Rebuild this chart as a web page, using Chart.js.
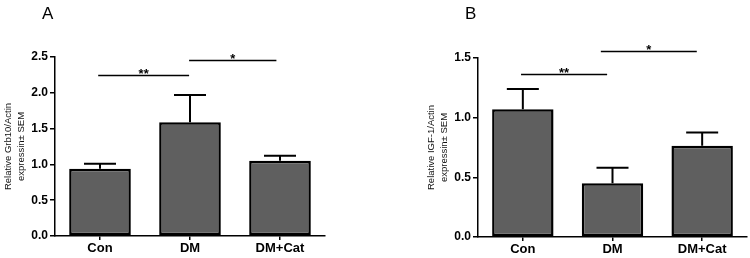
<!DOCTYPE html>
<html>
<head>
<meta charset="utf-8">
<script src="https://cdn.jsdelivr.net/npm/chart.js@4"></script>
<style>
  html, body { margin: 0; padding: 0; background: #fff; }
  body { width: 750px; height: 258px; position: relative; overflow: hidden; }
  canvas { position: absolute; top: 0; }
  #cA { left: 0; }
  #cB { left: 423px; }
</style>
</head>
<body>
<canvas id="cA" width="335" height="258"></canvas>
<canvas id="cB" width="327" height="258"></canvas>
<script>
// ---- data ----
const categories = ['Con', 'DM', 'DM+Cat'];

const grb10Mean = [0.94, 1.59, 1.05];
const grb10Sem  = [0.07, 0.38, 0.07];
const grb10Ticks = [0, 0.5, 1.0, 1.5, 2.0, 2.5];
const grb10Title = ['Relative Grb10/Actin', 'expressin\u00B1 SEM'];
const grb10SigFrom  = [-0.02, 0.99];
const grb10SigTo    = [0.99, 1.96];
const grb10SigY     = [2.25, 2.46];
const grb10SigLabel = ['**', '*'];

const igf1Mean = [1.07, 0.45, 0.765];
const igf1Sem  = [0.17, 0.13, 0.11];
const igf1Ticks = [0, 0.5, 1.0, 1.5];
const igf1Title = ['Relative IGF-1/Actin', 'expressin\u00B1 SEM'];
const igf1SigFrom  = [-0.02, 0.87];
const igf1SigTo    = [0.94, 1.94];
const igf1SigY     = [1.37, 1.56];
const igf1SigLabel = ['**', '*'];

Chart.defaults.font.family = 'Arial, "Liberation Sans", sans-serif';
Chart.defaults.color = '#000';

const annotPlugin = {
  id: 'annot',
  afterDatasetsDraw(chart, args, o) {
    const { ctx } = chart;
    const x = chart.scales.x, y = chart.scales.y;
    ctx.save();
    // error bars (upper SEM)
    ctx.strokeStyle = '#000';
    ctx.lineWidth = 2;
    o.mean.forEach((m, i) => {
      const cx = x.getPixelForValue(i);
      const y0 = y.getPixelForValue(m);
      const y1 = y.getPixelForValue(m + o.sem[i]);
      ctx.beginPath();
      ctx.moveTo(cx, y0); ctx.lineTo(cx, y1);
      ctx.moveTo(cx - 16, y1); ctx.lineTo(cx + 16, y1);
      ctx.stroke();
    });
    // significance brackets
    ctx.lineWidth = 1.3;
    ctx.fillStyle = '#000';
    ctx.font = 'bold 13px Arial, "Liberation Sans", sans-serif';
    ctx.textAlign = 'center';
    ctx.textBaseline = 'alphabetic';
    o.sigY.forEach((v, i) => {
      const xa = x.getPixelForValue(o.sigFrom[i]);
      const xb = x.getPixelForValue(o.sigTo[i]);
      const yy = Math.round(y.getPixelForValue(v)) + 0.5;
      ctx.beginPath(); ctx.moveTo(xa, yy); ctx.lineTo(xb, yy); ctx.stroke();
      ctx.fillText(o.sigLabel[i], (xa + xb) / 2, yy + 2);
    });
    // panel letter
    ctx.font = '17px Arial, "Liberation Sans", sans-serif';
    ctx.textAlign = 'left';
    ctx.fillText(o.letter, chart.chartArea.left - 13, 19);
    ctx.restore();
  }
};

function makeChart(id, mean, sem, ticks, title, sigFrom, sigTo, sigY, sigLabel, letter, pad) {
  return new Chart(document.getElementById(id), {
    type: 'bar',
    data: {
      labels: categories,
      datasets: [{
        data: mean,
        backgroundColor: '#5f5f5f',
        borderColor: '#000',
        borderWidth: 2.5,
        borderSkipped: false,
        categoryPercentage: 1,
        barPercentage: 0.685
      }]
    },
    options: {
      responsive: false,
      animation: false,
      devicePixelRatio: 1,
      layout: { padding: pad },
      plugins: {
        legend: { display: false },
        tooltip: { enabled: false },
        annot: { mean, sem, sigFrom, sigTo, sigY, sigLabel, letter }
      },
      scales: {
        x: {
          offset: true,
          grid: { display: true, drawOnChartArea: false, drawTicks: true, tickLength: 4, offset: false, color: '#000', lineWidth: 1.5 },
          border: { display: true, color: '#000', width: 1.5 },
          ticks: { font: { size: 13, weight: 'bold' }, padding: 1, maxRotation: 0, color: '#000' },
          afterFit: s => { s.height = 258 - pad.bottom - (pad.chartBottom); }
        },
        y: {
          min: ticks[0],
          max: ticks[ticks.length - 1],
          afterBuildTicks: s => { s.ticks = ticks.map(v => ({ value: v })); },
          grid: { display: true, drawOnChartArea: false, drawTicks: true, tickLength: 5, color: '#000', lineWidth: 1.5 },
          border: { display: true, color: '#000', width: 1.5 },
          ticks: { font: { size: 12, weight: 'bold' }, padding: 2, color: '#000', callback: v => Number(v).toFixed(1) },
          title: { display: true, text: title, font: { size: 9.5, lineHeight: 1.45 }, color: '#111', padding: { top: 1, bottom: 0 } },
          afterFit: s => { s.width = 55; }
        }
      }
    },
    plugins: [annotPlugin]
  });
}

makeChart('cA', grb10Mean, grb10Sem, grb10Ticks, grb10Title,
  grb10SigFrom, grb10SigTo, grb10SigY, grb10SigLabel, 'A',
  { top: 57, right: 10, left: 0, bottom: 0, chartBottom: 236 });
makeChart('cB', igf1Mean, igf1Sem, igf1Ticks, igf1Title,
  igf1SigFrom, igf1SigTo, igf1SigY, igf1SigLabel, 'B',
  { top: 58, right: 3, left: 0, bottom: 0, chartBottom: 237 });
</script>
</body>
</html>
